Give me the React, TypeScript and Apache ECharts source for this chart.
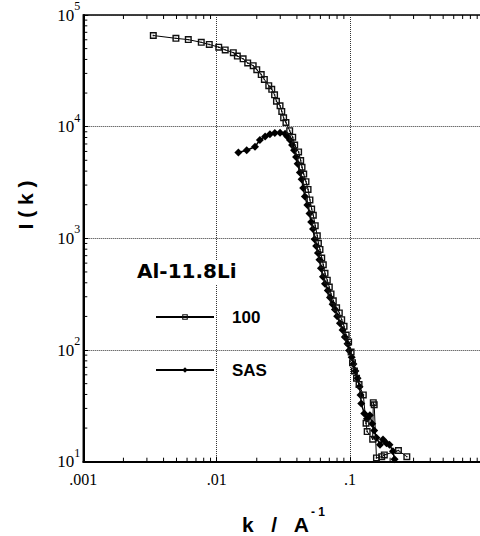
import React, { useEffect, useRef } from 'react';
import * as echarts from 'echarts';

// Series "100" (open squares)
const k100 = [
  0.00335, 0.00495, 0.00613, 0.00767, 0.00881, 0.01037, 0.0116, 0.01334, 0.0143, 0.0158,
  0.0171, 0.0188, 0.02, 0.0216, 0.0228, 0.0246, 0.0259, 0.0272, 0.0281, 0.0299,
  0.0308, 0.0318, 0.0331, 0.0353, 0.0372, 0.0385, 0.0412, 0.0427, 0.0437, 0.045,
  0.0468, 0.0485, 0.0501, 0.0516, 0.0531, 0.0549, 0.0569, 0.058, 0.0596, 0.0614,
  0.0631, 0.065, 0.0676, 0.07, 0.0721, 0.075, 0.0794, 0.0832, 0.0867, 0.0903,
  0.0937, 0.0977, 0.102, 0.1045, 0.108, 0.112, 0.117, 0.1259, 0.132, 0.1346,
  0.148, 0.1496, 0.152, 0.158, 0.173, 0.181, 0.231, 0.267,
];
const i100 = [
  65500, 61800, 60200, 56900, 54500, 51500, 48700, 46000, 42900, 40500,
  37200, 35200, 32400, 29300, 26500, 23300, 21600, 19300, 16900, 15400,
  13700, 12000, 10900, 9200, 8050, 6840, 5940, 4980, 4330, 3760,
  3220, 2740, 2210, 1830, 1610, 1300, 1055, 904, 796, 667,
  580, 486, 422, 366, 318, 276, 239, 215, 187, 163,
  136, 118, 96, 77, 65, 56, 49, 39.6, 22.1, 18.6,
  15.9, 33.8, 32.3, 10.8, 11.1, 11.5, 12.6, 11.1,
];

// Series "SAS" (filled diamonds)
const kSAS = [
  0.01456, 0.0168, 0.0194, 0.0211, 0.0231, 0.0251, 0.0273, 0.0299, 0.0326, 0.0339,
  0.0355, 0.0368, 0.0381, 0.0394, 0.0405, 0.0421, 0.0434, 0.0446, 0.0459, 0.0479,
  0.0497, 0.0512, 0.0528, 0.0543, 0.0558, 0.0575, 0.059, 0.0606, 0.0627, 0.065,
  0.0682, 0.0708, 0.0741, 0.0771, 0.0802, 0.0841, 0.088, 0.0915, 0.0958, 0.0986,
  0.103, 0.1062, 0.1099, 0.114, 0.118, 0.12, 0.1215, 0.128, 0.134, 0.141,
  0.147, 0.152, 0.158, 0.168, 0.177, 0.188, 0.198, 0.21, 0.216,
];
const iSAS = [
  5860, 6150, 6610, 7600, 8170, 8570, 8770, 8800, 8630, 8170,
  7600, 6840, 6150, 5350, 4650, 3890, 3380, 2830, 2370, 1990,
  1670, 1400, 1215, 984, 853, 741, 644, 540, 452, 393,
  341, 296, 257, 231, 201, 174, 151, 131, 114, 99,
  86, 75, 65, 56, 47, 39.6, 33.2, 27, 24.2, 26,
  21.9, 19, 16.4, 14.2, 15.8, 14.6, 14.2, 12.4, 10.5,
];

const seriesNames = ['100', 'SAS'];
const xTickLabels = ['.001', '.01', '.1', ''];
const yTickBase = '10';
const minorMultipliers = [2, 3, 4, 5, 6, 7, 8, 9];
const xDecades = [0.001, 0.01, 0.1];
const yDecades = [10, 100, 1000, 10000];

export default function App() {
  const ref = useRef<HTMLDivElement>(null);
  useEffect(() => {
    const chart = echarts.init(ref.current as HTMLDivElement, null, { renderer: 'svg' });
    const xMinor = xDecades.flatMap((d) => minorMultipliers.map((m) => m * d));
    const yMinor = yDecades.flatMap((d) => minorMultipliers.map((m) => m * d));
    const squareDot = 'path://M0 0H10V10H0Z M2 2V8H8V2Z M4 4H6V6H4Z';
    const tickStyle = { stroke: '#000', lineWidth: 1 };

    chart.setOption({
      animation: false,
      backgroundColor: '#fff',
      grid: {
        left: 83.3, top: 15, width: 400, height: 446.7,
        outerBoundsMode: 'none',
        show: true, borderColor: '#000', borderWidth: 1.5,
      },
      xAxis: {
        type: 'log', logBase: 10, min: 0.001, max: 1,
        axisLine: { show: true, lineStyle: { color: '#000', width: 2 } },
        axisTick: { show: true, inside: true, length: 5, lineStyle: { color: '#000' } },
        splitLine: { show: true, lineStyle: { color: '#333', width: 1, type: [1, 1] } },
        axisLabel: {
          formatter: (v: number) => xTickLabels[Math.round(Math.log10(v)) + 3] ?? '',
          fontFamily: 'Liberation Serif', fontSize: 16, color: '#000', margin: 10,
        },
      },
      yAxis: {
        type: 'log', logBase: 10, min: 10, max: 100000,
        axisLine: { show: true, lineStyle: { color: '#000', width: 2 } },
        axisTick: { show: true, inside: true, length: 5, lineStyle: { color: '#000' } },
        splitLine: { show: true, lineStyle: { color: '#333', width: 1, type: [1, 1] } },
        axisLabel: {
          formatter: (v: number) => `{b|${yTickBase}}{s|${Math.round(Math.log10(v))}}`,
          margin: 3,
          rich: {
            b: { fontFamily: 'Liberation Serif', fontSize: 17, color: '#000' },
            s: { fontFamily: 'Liberation Serif', fontSize: 12, color: '#000', padding: [0, 0, 18, 0] },
          },
        },
      },
      legend: {
        data: seriesNames,
        orient: 'vertical',
        left: 155, top: 308, padding: 0,
        itemWidth: 58, itemHeight: 7, itemGap: 35,
        selectedMode: false,
        textStyle: {
          fontFamily: 'Liberation Sans', fontWeight: 'bold', fontSize: 17,
          color: '#000', lineHeight: 18, padding: [0, 0, 0, 13],
        },
      },
      series: [
        {
          name: seriesNames[1], type: 'line',
          data: kSAS.map((k, i) => [k, iSAS[i]]),
          symbol: 'diamond', symbolSize: 8,
          itemStyle: { color: '#000' },
          lineStyle: { color: '#000', width: 1.5 },
          z: 3,
        },
        {
          name: seriesNames[0], type: 'line',
          data: k100.map((k, i) => [k, i100[i]]),
          symbol: squareDot, symbolSize: 7,
          itemStyle: { color: '#111' },
          lineStyle: { color: '#000', width: 1 },
          z: 4,
        },
        {
          type: 'custom', silent: true, z: 5,
          data: xMinor.map((v) => [v, 10]),
          renderItem: (params: any, api: any) => {
            const p = api.coord([api.value(0), 10]);
            const top = params.coordSys.y;
            return {
              type: 'group',
              children: [
                { type: 'line', shape: { x1: p[0], y1: p[1], x2: p[0], y2: p[1] - 4 }, style: tickStyle },
                { type: 'line', shape: { x1: p[0], y1: top, x2: p[0], y2: top + 4 }, style: tickStyle },
              ],
            };
          },
        },
        {
          type: 'custom', silent: true, z: 5,
          data: yMinor.map((v) => [0.001, v]),
          renderItem: (params: any, api: any) => {
            const p = api.coord([0.001, api.value(1)]);
            return {
              type: 'line',
              shape: { x1: p[0], y1: p[1], x2: p[0] + 4, y2: p[1] },
              style: tickStyle,
            };
          },
        },
      ],
      graphic: [
        {
          type: 'text', left: 137, top: 261, z: 100,
          style: {
            text: 'Al-11.8Li', fill: '#000',
            font: 'bold 20px "DejaVu Sans"',
            backgroundColor: '#fff', padding: [0, 2, 4, 0],
          },
        },
        {
          type: 'text', x: 25.5, y: 205, rotation: Math.PI / 2, z: 100,
          style: {
            text: 'I ( k )', fill: '#000', font: 'bold 21px "Liberation Sans"',
            align: 'center', verticalAlign: 'middle',
          },
        },
        {
          type: 'text', x: 242, y: 524, z: 100,
          style: {
            text: 'k   /   A', fill: '#000', font: 'bold 21px "Liberation Sans"',
            align: 'left', verticalAlign: 'middle',
          },
        },
        {
          type: 'text', x: 311, y: 512, z: 100,
          style: {
            text: '- 1', fill: '#000', font: 'bold 12px "Liberation Sans"',
            align: 'left', verticalAlign: 'middle',
          },
        },
      ],
    });
    return () => chart.dispose();
  }, []);
  return (
    <div
      ref={ref}
      style={{ position: 'fixed', left: 0, top: 0, width: 480, height: 536, background: '#fff' }}
    />
  );
}
